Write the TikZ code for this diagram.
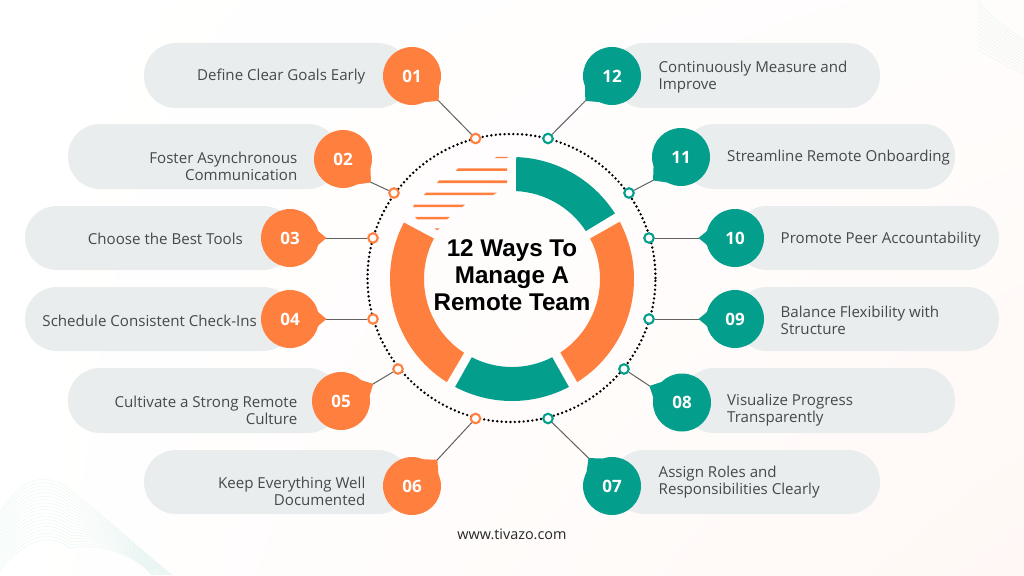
\documentclass[tikz,border=0pt]{standalone}
\usepackage{fontspec}
\setmainfont{Open Sans}
\newfontfamily\titlefont{Liberation Sans}
\usetikzlibrary{calc,shadings}
\definecolor{orng}{HTML}{FF7F3F}
\definecolor{teal1}{HTML}{049E8C}
\definecolor{pill}{HTML}{E9EDEE}
\definecolor{itemtxt}{HTML}{46494C}
\definecolor{wave}{HTML}{C4E8E1}
\definecolor{blush}{HTML}{FFF8F5}
\tikzset{
  pillbox/.style={fill=pill,rounded corners=32pt},
  ltext/.style={anchor=east,align=right,inner sep=0pt,text=itemtxt,font=\fontsize{15.1}{17}\selectfont},
  rtext/.style={anchor=west,align=left,inner sep=0pt,text=itemtxt,font=\fontsize{15.1}{17}\selectfont},
  numdisc/.style={circle,inner sep=0pt,minimum size=58pt,text=white,font=\bfseries\fontsize{17}{18}\selectfont},
  ringdot/.style={circle,inner sep=0pt,minimum size=9.5pt,fill=white,line width=2.1pt},
  linkline/.style={draw=black!62,line width=1pt},
  stripe/.style={fill=orng},
  wavel/.style={draw=wave,line width=0.2pt,opacity=.6}
}
% #1 name, #2 x, #3 y, #4 number, #5 colour, #6 spike direction, #7 half-width of its base in degrees
\newcommand{\numbubble}[7]{%
  \fill[#5] ($(#2,#3)+(#6-#7:28.5pt)$) -- ($(#2,#3)+(#6:36.5pt)$) -- ($(#2,#3)+(#6+#7:28.5pt)$) -- cycle;
  \node[numdisc,fill=#5] (#1) at (#2,#3) {#4};
  \coordinate (#1tip) at ($(#2,#3)+(#6:36pt)$);
}
% sector: outer r 122 inner r 88 about (512,279)
\newcommand{\sector}[5]{%
  \fill[#1] ($(512,279)+(#2:122pt)$) arc[start angle=#2,end angle=#3,radius=122pt]
    -- ($(512,279)+(#5:88pt)$) arc[start angle=#5,end angle=#4,radius=88pt] -- cycle;
}
\begin{document}
\begin{tikzpicture}[x=1pt,y=-1pt]
\useasboundingbox (0,0) rectangle (1024,575);
\shade[shading=bilinear interpolation,upper left=white,upper right=white!70!blush,lower left=white,lower right=blush] (0,0) rectangle (1024,575);
% background waves
\begin{scope}
\clip (0,0) rectangle (1024,575);
\foreach \i in {0,...,18}{
  \pgfmathsetmacro{\t}{\i/18}
  \draw[wavel] (0,{512+\t*58}) .. controls ({22},{478+\t*66}) and ({45},{470+\t*60}) .. ({70},{490+\t*58}) .. controls ({100},{512+\t*30}) and ({135},{545+\t*10}) .. ({172-\t*20},575);
}
\foreach \i in {0,...,12}{
  \pgfmathsetmacro{\t}{\i/12}
  \draw[wavel] ({978},{\t*50}) .. controls ({990},{18+\t*38}) and ({1008},{28+\t*40}) .. (1024,{40+\t*34});
}
\end{scope}
% pills
\fill[pillbox] (144,43) rectangle (410,108);
\fill[pillbox] (68,124) rectangle (340,189);
\fill[pillbox] (25,206) rectangle (295,270);
\fill[pillbox] (25,287) rectangle (295,351);
\fill[pillbox] (68,368) rectangle (340,433);
\fill[pillbox] (144,450) rectangle (410,514);
\fill[pillbox] (612,43) rectangle (880,108);
\fill[pillbox] (682,124) rectangle (955,189);
\fill[pillbox] (735,206) rectangle (999,270);
\fill[pillbox] (735,287) rectangle (999,351);
\fill[pillbox] (682,368) rectangle (955,433);
\fill[pillbox] (612,450) rectangle (880,514);
% dotted ring
\draw[line width=2.7pt,dash pattern=on 0pt off 4.4pt,line cap=round] (511.5,278) circle[radius=144pt];
% donut
\sector{teal1}{88}{32.5}{87.4}{33}
\sector{orng}{28}{-57.7}{27.4}{-56.7}
\sector{teal1}{-62.2}{-117.8}{-62.8}{-117.2}
\sector{orng}{-122.3}{-207.6}{-123}{-207.4}
% stripes
\fill[stripe] (497,156.8) -- (507.7,156.8) -- (507.7,158.2) -- (494,158.2) -- cycle;
\fill[stripe] (458,168.3) -- (507,168.3) -- (507,170.8) -- (456,170.8) -- cycle;
\fill[stripe] (439,180.4) -- (507,180.4) -- (507,183) -- (437,183) -- cycle;
\fill[stripe] (426,192.5) -- (497,192.5) -- (493,195) -- (424,195) -- cycle;
\fill[stripe] (414,204.7) -- (465,204.7) -- (462,207.2) -- (413,207.2) -- cycle;
\fill[stripe] (415,216.8) -- (450,216.8) -- (447,219.3) -- (417,219.3) -- cycle;
\fill[stripe] (434.5,228.3) -- (440,228.3) -- (437,230.3) -- cycle;
% title
\node[align=center,inner sep=0pt,font=\titlefont\bfseries\fontsize{24.2}{27}\selectfont,text=black] (title) at (512,275.5) {12 Ways To\\Manage A\\Remote Team};
% bubbles
\numbubble{n01}{412}{76}{01}{orng}{-43}{24}
\numbubble{n02}{343}{159}{02}{orng}{-40}{24}
\numbubble{n03}{290}{238}{03}{orng}{0}{15}
\numbubble{n04}{290}{319}{04}{orng}{0}{15}
\numbubble{n05}{341}{401}{05}{orng}{28}{20}
\numbubble{n06}{412}{486}{06}{orng}{46}{24}
\numbubble{n12}{612}{76}{12}{teal1}{-137}{24}
\numbubble{n11}{681}{157}{11}{teal1}{-140}{24}
\numbubble{n10}{735}{238}{10}{teal1}{180}{15}
\numbubble{n09}{735}{319}{09}{teal1}{180}{15}
\numbubble{n08}{682}{402.5}{08}{teal1}{153}{20}
\numbubble{n07}{612}{486}{07}{teal1}{130}{24}
% ring dots
\node[ringdot,draw=orng] (r01) at (475.5,138.5) {};
\node[ringdot,draw=orng] (r02) at (394,193) {};
\node[ringdot,draw=orng] (r03) at (373,238) {};
\node[ringdot,draw=orng] (r04) at (373,319) {};
\node[ringdot,draw=orng] (r05) at (398,369) {};
\node[ringdot,draw=orng] (r06) at (475.5,418.5) {};
\node[ringdot,draw=teal1] (r12) at (548,138.5) {};
\node[ringdot,draw=teal1] (r11) at (629,193) {};
\node[ringdot,draw=teal1] (r10) at (649,238) {};
\node[ringdot,draw=teal1] (r09) at (649,319) {};
\node[ringdot,draw=teal1] (r08) at (624,369) {};
\node[ringdot,draw=teal1] (r07) at (548,418.5) {};
% connectors
\foreach \k in {01,02,03,04,05,06,07,08,09,10,11,12}{
  \draw[linkline] (n\k tip) -- (r\k);
}
% labels
\node[ltext] (l01) at (365.5,76.5) {Define Clear Goals Early};
\node[ltext] (l02) at (297.5,166) {Foster Asynchronous\\Communication};
\node[ltext] (l03) at (243,239) {Choose the Best Tools};
\node[ltext] (l04) at (257,320.5) {Schedule Consistent Check-Ins};
\node[ltext] (l05) at (297.5,410) {Cultivate a Strong Remote\\Culture};
\node[ltext] (l06) at (365.5,491) {Keep Everything Well\\Documented};
\node[rtext] (l12) at (658.5,77) {Continuously Measure and\\Improve};
\node[rtext] (l11) at (727,157.5) {Streamline Remote Onboarding};
\node[rtext] (l10) at (780.5,239.5) {Promote Peer Accountability};
\node[rtext] (l09) at (780.5,320.5) {Balance Flexibility with\\Structure};
\node[rtext] (l08) at (727,410) {Visualize Progress\\Transparently};
\node[rtext] (l07) at (658.5,482.5) {Assign Roles and\\Responsibilities Clearly};
\node[inner sep=0pt,text=black!85,font=\fontsize{14.4}{16}\selectfont] (web) at (512,534.5) {www.tivazo.com};
\end{tikzpicture}
\end{document}
